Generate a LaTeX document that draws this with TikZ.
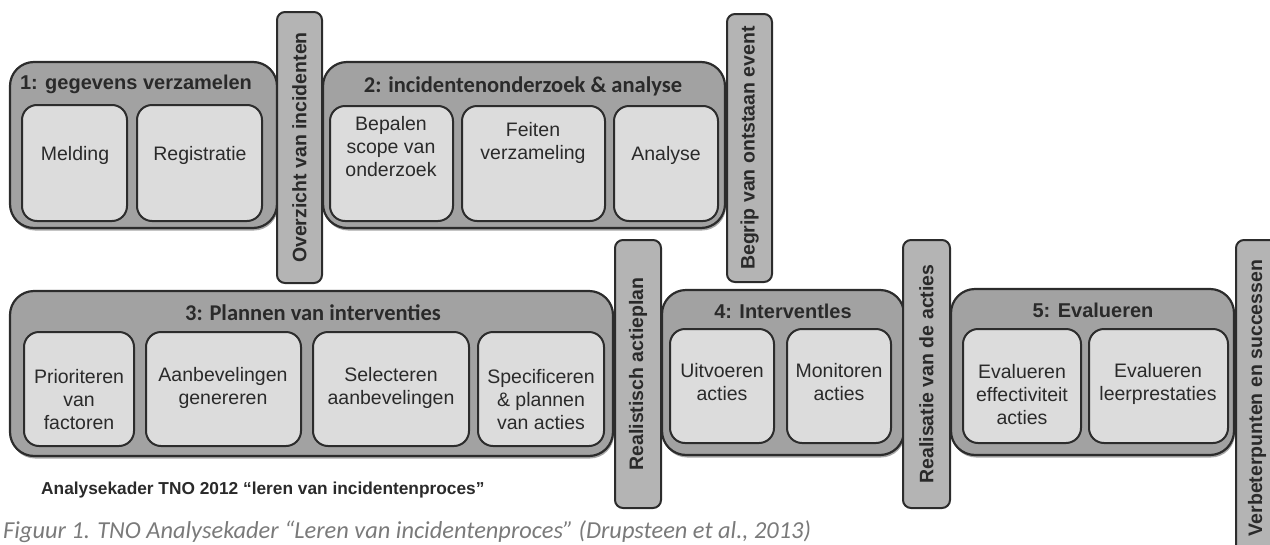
\documentclass[tikz,border=0pt]{standalone}
\usepackage{fontspec}
\setmainfont{Liberation Sans}
\newfontfamily\carlito{Carlito}
\usetikzlibrary{shadows}
\definecolor{grpfill}{HTML}{A2A2A2}
\definecolor{barfill}{HTML}{B4B4B4}
\definecolor{inrfill}{HTML}{DCDCDC}
\definecolor{edge}{HTML}{2C2C2C}
\definecolor{ink}{HTML}{2A2A2A}
\definecolor{capink}{HTML}{7A7A7A}
\newcommand\mkbox[6]{%
  \node[#1, minimum width={#5-#3}, minimum height={#6-#4}] (#2) at ({(#3+#5)/2},{(#4+#6)/2}) {};}
\tikzset{
  grp/.style={draw=edge, line width=2.2pt, fill=grpfill, rounded corners=24pt, inner sep=0pt,
    drop shadow={shadow xshift=1pt, shadow yshift=-2.5pt, fill=black, opacity=0.35}},
  inr/.style={draw=edge, line width=2pt, fill=inrfill, rounded corners=15pt, inner sep=0pt},
  bar/.style={draw=edge, line width=2pt, fill=barfill, rounded corners=8pt, inner sep=0pt},
  ttl/.style={text=ink, inner sep=0pt, font=\bfseries\fontsize{20}{24}\selectfont},
  cttl/.style={text=ink, inner sep=0pt, font=\carlito\bfseries\fontsize{22.5}{26}\selectfont},
  itxt/.style={text=ink, inner sep=0pt, align=center, font=\fontsize{19.5}{23}\selectfont},
  btxt/.style={text=ink, inner sep=0pt, rotate=90, font=\bfseries\fontsize{19.5}{23}\selectfont},
}
\begin{document}
\begin{tikzpicture}[x=1pt,y=-1pt]
\useasboundingbox (0,0) rectangle (1270,544);
\clip (0,0) rectangle (1270,544);
% group 1
\mkbox{grp}{g1}{10}{62}{277}{228}
\node[ttl] (g1t) at (136,84) {1: gegevens verzamelen};
\mkbox{inr}{melding}{22}{105}{127}{221}
\node[itxt] (meldingt) at (75,155) {Melding};
\mkbox{inr}{registratie}{137}{105}{262}{221}
\node[itxt] (registratiet) at (200,155) {Registratie};
% group 2
\mkbox{grp}{g2}{323}{62}{725}{228}
\node[cttl] (g2t) at (523,86) {2: incidentenonderzoek \& analyse};
\mkbox{inr}{bepalen}{330}{106}{453}{221}
\node[itxt] (bepalent) at (391,147) {Bepalen\\scope van\\onderzoek};
\mkbox{inr}{feiten}{462}{106}{605}{221}
\node[itxt] (feitent) at (533,143) {Feiten\\verzameling};
\mkbox{inr}{analyse}{614}{106}{718}{221}
\node[itxt] (analyset) at (666,155) {Analyse};
% group 3
\mkbox{grp}{g3}{10}{291}{613}{456}
\node[cttl] (g3t) at (313,313) {3: Plannen van interventies};
\mkbox{inr}{prio}{24}{332}{134}{446}
\node[itxt] (priot) at (79,399.5) {Prioriteren\\van\\factoren};
\mkbox{inr}{aanb}{146}{332}{301}{446}
\node[itxt] (aanbt) at (223,388) {Aanbevelingen\\genereren};
\mkbox{inr}{sel}{313}{332}{469}{446}
\node[itxt] (selt) at (391,388) {Selecteren\\aanbevelingen};
\mkbox{inr}{spec}{478}{332}{604}{446}
\node[itxt] (spect) at (541,399.5) {Specificeren\\\& plannen\\van acties};
% group 4
\mkbox{grp}{g4}{662}{290}{904}{455}
\node[ttl] (g4t) at (783,311) {4: Interventles};
\mkbox{inr}{uitv}{670}{329}{774}{443}
\node[itxt] (uitvt) at (722,382) {Uitvoeren\\acties};
\mkbox{inr}{moni}{787}{329}{891}{443}
\node[itxt] (monit) at (839,382) {Monitoren\\acties};
% group 5
\mkbox{grp}{g5}{951}{289}{1234}{455}
\node[ttl] (g5t) at (1093,310) {5: Evalueren};
\mkbox{inr}{evala}{963}{329}{1081}{443}
\node[itxt] (evalat) at (1022,395) {Evalueren\\effectiviteit\\acties};
\mkbox{inr}{evalb}{1089}{329}{1228}{443}
\node[itxt] (evalbt) at (1158,383.5) {Evalueren\\leerprestaties};
% bars
\mkbox{bar}{overzicht}{277}{12}{322}{283}
\node[btxt] (overzichtt) at (overzicht.center) {Overzicht van incidenten};
\mkbox{bar}{begrip}{727}{14}{772}{282}
\node[btxt] (begript) at (begrip.center) {Begrip van ontstaan event};
\mkbox{bar}{realplan}{615}{240}{661}{508}
\node[btxt] (realplant) at (realplan.center) {Realistisch actieplan};
\mkbox{bar}{realact}{903}{240}{950}{508}
\node[btxt] (realactt) at (realact.center) {Realisatie van de acties};
\mkbox{bar}{verbeter}{1236}{240}{1282}{580}
\node[btxt] (verbetert) at (1257,398) {Verbeterpunten en successen};
% captions
\node[anchor=west, text=ink, inner sep=0pt, font=\bfseries\fontsize{17.3}{20}\selectfont] (kader) at (41,490) {Analysekader TNO 2012 “leren van incidentenproces”};
\node[anchor=base west, text=capink, inner sep=0pt, font=\carlito\itshape\fontsize{24.4}{28}\selectfont] (figuur) at (3,538) {Figuur 1. TNO Analysekader “Leren van incidentenproces” (Drupsteen et al., 2013)};
\end{tikzpicture}
\end{document}
